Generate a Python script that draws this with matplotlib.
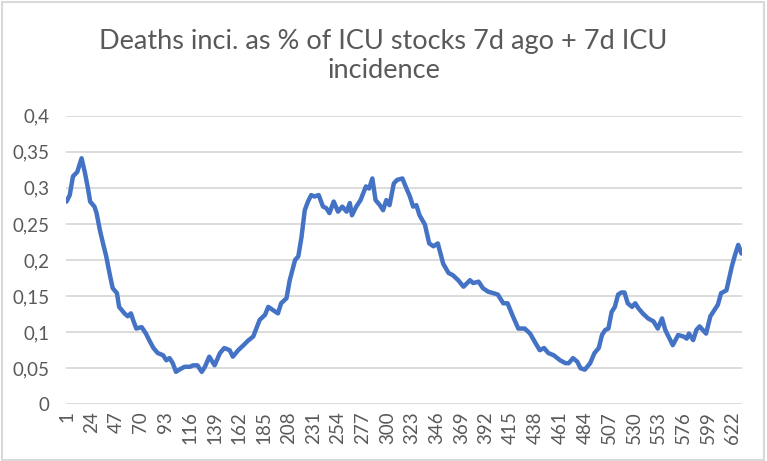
import matplotlib
matplotlib.use("Agg")
import matplotlib.pyplot as plt
from matplotlib.patches import Rectangle

days = [1, 4, 7, 11, 15, 18, 21, 23, 27, 29, 32, 35, 38, 41, 44, 48, 50, 55, 58, 61,
        63, 66, 71, 75, 78, 82, 86, 91, 94, 97, 100, 103, 106, 111, 116, 119, 123, 127, 130, 134,
        139, 144, 148, 153, 156, 161, 166, 170, 175, 181, 186, 189, 193, 198, 201, 206, 209, 214, 217, 220,
        223, 226, 229, 232, 236, 240, 243, 246, 250, 254, 258, 262, 265, 267, 271, 275, 280, 283, 286, 289,
        293, 296, 299, 302, 306, 309, 314, 317, 321, 324, 327, 330, 335, 339, 343, 347, 352, 357, 361, 366,
        371, 377, 380, 385, 389, 394, 399, 403, 408, 412, 417, 422, 428, 433, 438, 442, 446, 450, 455, 461,
        466, 469, 473, 477, 480, 484, 489, 493, 497, 500, 503, 506, 509, 512, 515, 518, 521, 524, 528, 531,
        534, 538, 543, 548, 552, 556, 559, 563, 566, 571, 576, 579, 581, 585, 588, 591, 594, 597, 601, 605,
        608, 611, 616, 621, 624, 627, 630]
values = [0.281, 0.290, 0.316, 0.322, 0.341, 0.322, 0.299, 0.281, 0.274, 0.265, 0.242, 0.223, 0.205, 0.182, 0.161, 0.154, 0.135, 0.126, 0.122, 0.126,
          0.117, 0.105, 0.107, 0.098, 0.089, 0.078, 0.071, 0.068, 0.061, 0.064, 0.057, 0.045, 0.048, 0.052, 0.052, 0.054, 0.054, 0.045, 0.052, 0.066,
          0.054, 0.071, 0.078, 0.075, 0.066, 0.075, 0.082, 0.088, 0.094, 0.117, 0.124, 0.135, 0.131, 0.126, 0.140, 0.147, 0.172, 0.200, 0.205, 0.232,
          0.269, 0.281, 0.290, 0.288, 0.290, 0.274, 0.272, 0.265, 0.281, 0.267, 0.274, 0.267, 0.279, 0.262, 0.274, 0.283, 0.302, 0.299, 0.313, 0.283,
          0.276, 0.269, 0.283, 0.276, 0.306, 0.311, 0.313, 0.302, 0.288, 0.274, 0.276, 0.262, 0.249, 0.223, 0.219, 0.223, 0.195, 0.182, 0.179, 0.172,
          0.163, 0.172, 0.168, 0.170, 0.161, 0.156, 0.154, 0.152, 0.140, 0.140, 0.122, 0.105, 0.105, 0.098, 0.085, 0.075, 0.078, 0.071, 0.068, 0.061,
          0.057, 0.057, 0.064, 0.059, 0.050, 0.048, 0.057, 0.071, 0.078, 0.096, 0.103, 0.105, 0.128, 0.135, 0.152, 0.155, 0.155, 0.140, 0.135, 0.140,
          0.133, 0.126, 0.119, 0.115, 0.105, 0.119, 0.103, 0.091, 0.082, 0.096, 0.094, 0.091, 0.098, 0.089, 0.103, 0.108, 0.103, 0.098, 0.122, 0.131,
          0.138, 0.154, 0.158, 0.191, 0.207, 0.221, 0.209]

x_ticks = list(range(1, 623, 23))
y_ticks = [0, 0.05, 0.1, 0.15, 0.2, 0.25, 0.3, 0.35, 0.4]
y_labels = ["0", "0,05", "0,1", "0,15", "0,2", "0,25", "0,3", "0,35", "0,4"]
title = "Deaths inci. as % of ICU stocks 7d ago + 7d ICU\nincidence"

plt.rcParams['font.family'] = ['Lato', 'DejaVu Sans']
txt = '#595959'

fig = plt.figure(figsize=(7.67, 4.61), dpi=100)
ax = fig.add_axes([66 / 767, 1 - 404.3 / 461, 676 / 767, 288.6 / 461])

ax.plot(days, values, color='#4472C4', lw=3.2, solid_joinstyle='round', solid_capstyle='round')
ax.set_xlim(0.5, 630.5)
ax.set_ylim(0, 0.4)
ax.set_yticks(y_ticks)
ax.set_yticklabels(y_labels)
ax.set_xticks(x_ticks)
ax.set_xticklabels([str(t) for t in x_ticks], rotation=90)
ax.tick_params(axis='both', length=0, colors=txt, labelsize=13.5)
ax.tick_params(axis='y', pad=12)
ax.tick_params(axis='x', pad=5)
ax.grid(axis='y', color='#D9D9D9', lw=1.3)
ax.set_axisbelow(True)
for s in ax.spines.values():
    s.set_visible(False)

fig.text(0.5, 1 - 56 / 461, title, ha='center', va='center', fontsize=19.5,
         color=txt, linespacing=1.2)

fig.patches.append(Rectangle((0.002, 0.003), 0.994, 0.993, transform=fig.transFigure,
                             fill=False, edgecolor='#D9D9D9', lw=1.5))

fig.savefig('out.png', dpi=100)
